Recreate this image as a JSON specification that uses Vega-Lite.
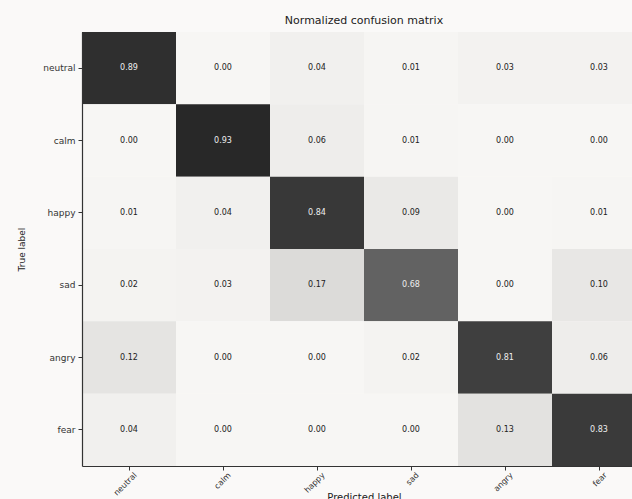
{
  "$schema": "https://vega.github.io/schema/vega-lite/v6.json",
  "autosize": "none",
  "width": 550,
  "height": 434,
  "padding": {"left": 82, "top": 32, "right": 0, "bottom": 33},
  "background": "#faf9f8",
  "title": {"text": "Normalized confusion matrix", "font": "DejaVu Sans", "fontSize": 11, "fontWeight": "normal", "color": "#222", "offset": 6, "dx": 7},
  "config": {"view": {"stroke": null}, "font": "DejaVu Sans"},
  "data": {"values": [
    {"true": "neutral", "pred": "neutral", "v": 0.89}, {"true": "neutral", "pred": "calm", "v": 0.00}, {"true": "neutral", "pred": "happy", "v": 0.04}, {"true": "neutral", "pred": "sad", "v": 0.01}, {"true": "neutral", "pred": "angry", "v": 0.03}, {"true": "neutral", "pred": "fear", "v": 0.03},
    {"true": "calm", "pred": "neutral", "v": 0.00}, {"true": "calm", "pred": "calm", "v": 0.93}, {"true": "calm", "pred": "happy", "v": 0.06}, {"true": "calm", "pred": "sad", "v": 0.01}, {"true": "calm", "pred": "angry", "v": 0.00}, {"true": "calm", "pred": "fear", "v": 0.00},
    {"true": "happy", "pred": "neutral", "v": 0.01}, {"true": "happy", "pred": "calm", "v": 0.04}, {"true": "happy", "pred": "happy", "v": 0.84}, {"true": "happy", "pred": "sad", "v": 0.09}, {"true": "happy", "pred": "angry", "v": 0.00}, {"true": "happy", "pred": "fear", "v": 0.01},
    {"true": "sad", "pred": "neutral", "v": 0.02}, {"true": "sad", "pred": "calm", "v": 0.03}, {"true": "sad", "pred": "happy", "v": 0.17}, {"true": "sad", "pred": "sad", "v": 0.68}, {"true": "sad", "pred": "angry", "v": 0.00}, {"true": "sad", "pred": "fear", "v": 0.10},
    {"true": "angry", "pred": "neutral", "v": 0.12}, {"true": "angry", "pred": "calm", "v": 0.00}, {"true": "angry", "pred": "happy", "v": 0.00}, {"true": "angry", "pred": "sad", "v": 0.02}, {"true": "angry", "pred": "angry", "v": 0.81}, {"true": "angry", "pred": "fear", "v": 0.06},
    {"true": "fear", "pred": "neutral", "v": 0.04}, {"true": "fear", "pred": "calm", "v": 0.00}, {"true": "fear", "pred": "happy", "v": 0.00}, {"true": "fear", "pred": "sad", "v": 0.00}, {"true": "fear", "pred": "angry", "v": 0.13}, {"true": "fear", "pred": "fear", "v": 0.83}
  ]},
  "resolve": {"axis": {"x": "independent"}},
  "layer": [
    {
      "mark": {"type": "rect"},
      "encoding": {
        "x": {"field": "pred", "type": "nominal", "sort": ["neutral", "calm", "happy", "sad", "angry", "fear"],
          "scale": {"range": [0, 564], "paddingInner": 0, "paddingOuter": 0},
          "axis": {"title": "Predicted label", "titleFont": "DejaVu Sans", "titleFontSize": 10, "titleFontWeight": "normal", "titleColor": "#222", "titleY": 26, "titleBaseline": "top",
            "labelAngle": -45, "labelAlign": "right", "labelBaseline": "top", "labelFontSize": 8, "labelColor": "#333", "labelPadding": 1, "labelOffset": 4,
            "domainColor": "#333", "domainWidth": 1.2, "tickColor": "#333", "tickSize": 4, "grid": false}},
        "y": {"field": "true", "type": "nominal", "sort": ["neutral", "calm", "happy", "sad", "angry", "fear"],
          "scale": {"paddingInner": 0, "paddingOuter": 0},
          "axis": {"title": "True label", "titleFont": "DejaVu Sans", "titleFontSize": 9, "titleFontWeight": "normal", "titleColor": "#222", "titlePadding": 16,
            "labelFontSize": 9, "labelColor": "#333", "labelPadding": 3,
            "domainColor": "#333", "domainWidth": 1.2, "tickColor": "#333", "tickSize": 4, "grid": false}},
        "color": {"field": "v", "type": "quantitative",
          "scale": {"domain": [0, 0.12, 0.17, 0.68, 0.83, 0.93], "range": ["#f7f6f4", "#e5e4e2", "#dcdbd9", "#626262", "#3a3a3a", "#282828"], "interpolate": "rgb"},
          "legend": null}
      }
    },
    {
      "mark": {"type": "text", "fontSize": 8, "font": "DejaVu Sans"},
      "encoding": {
        "x": {"field": "pred", "type": "nominal", "sort": ["neutral", "calm", "happy", "sad", "angry", "fear"],
          "axis": {"orient": "top", "labels": false, "ticks": false, "title": null, "domainColor": "#333", "domainWidth": 1.2, "grid": false}},
        "y": {"field": "true", "type": "nominal", "sort": ["neutral", "calm", "happy", "sad", "angry", "fear"]},
        "text": {"field": "v", "type": "quantitative", "format": ".2f"},
        "color": {"condition": {"test": "datum.v > 0.5", "value": "#eeeeee"}, "value": "#222222"}
      }
    }
  ]
}
